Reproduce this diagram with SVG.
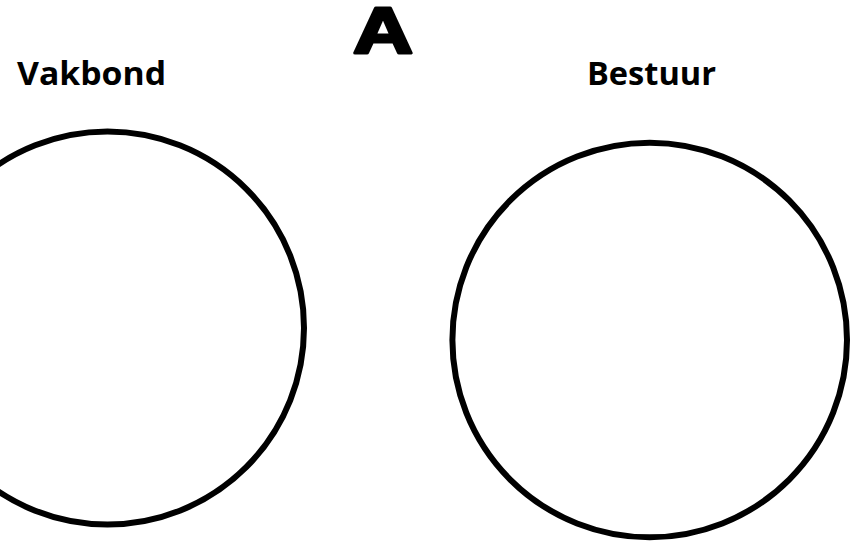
<svg xmlns="http://www.w3.org/2000/svg" width="852" height="545" viewBox="0 0 852 545">
<style>
.lbl{font-family:"Open Sans","Liberation Sans",sans-serif;font-weight:700;font-size:32px;fill:#000}
.ring{fill:none;stroke:#000;stroke-width:6}
</style>
<rect width="852" height="545" fill="#fff"/>
<g id="title">
<text x="353" y="53" font-family="Liberation Sans, sans-serif" font-weight="700" font-size="65" textLength="60" lengthAdjust="spacingAndGlyphs" stroke="#000" stroke-width="3" stroke-linejoin="round">A</text>
</g>
<g id="vakbond">
<text class="lbl" x="17" y="85" textLength="149" lengthAdjust="spacingAndGlyphs">Vakbond</text>
<circle class="ring" cx="107.5" cy="328" r="196.5"/>
</g>
<g id="bestuur">
<text class="lbl" x="587" y="85" textLength="129" lengthAdjust="spacingAndGlyphs">Bestuur</text>
<circle class="ring" cx="649.7" cy="340" r="197.3"/>
</g>
<g id="connectors"/>
</svg>
